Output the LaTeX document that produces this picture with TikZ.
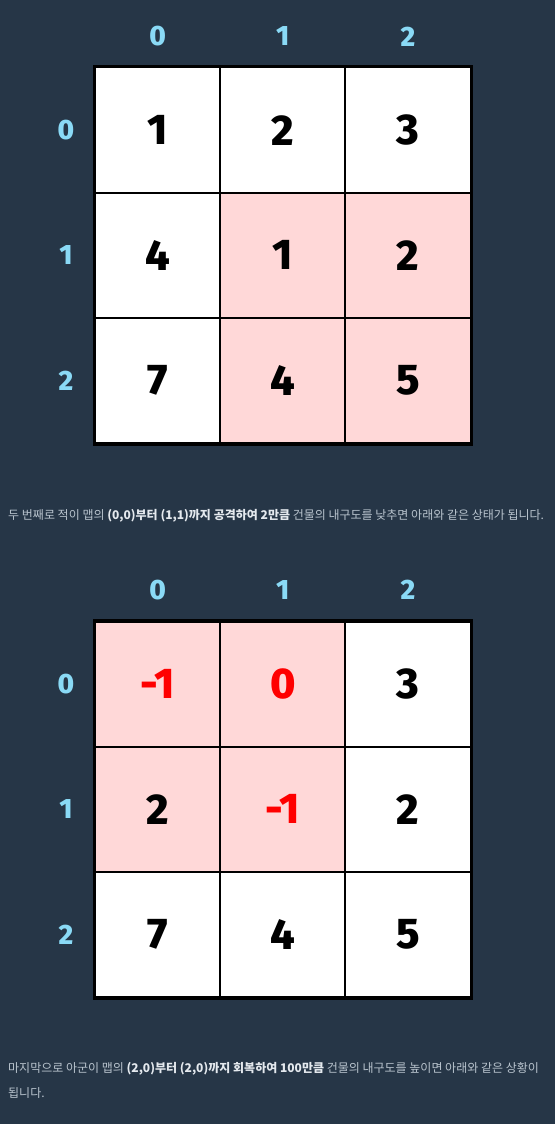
\documentclass[tikz,border=0pt]{standalone}
\usepackage{fontspec}
\setmainfont{Noto Sans CJK KR}
\newfontfamily\numfont{Fira Sans}[BoldFont={Fira Sans ExtraBold}]
\usetikzlibrary{positioning}
\definecolor{bgnavy}{HTML}{263647}
\definecolor{idxblue}{HTML}{8ADAF6}
\definecolor{hitpink}{HTML}{FFD8D8}
\definecolor{notegray}{HTML}{B9C4CE}
\definecolor{notewhite}{HTML}{E4E9EE}

\tikzset{
  cellbox/.style={draw=black, line width=2pt, minimum size=125.2pt, inner sep=0pt,
    font=\numfont\bfseries\fontsize{43}{43}\selectfont},
  idx/.style={text=idxblue, inner sep=0pt, font=\numfont\bfseries\fontsize{28}{28}\selectfont},
  note/.style={text=notegray, inner sep=0pt, anchor=north west, align=left,
    font=\fontsize{12}{25}\selectfont},
}
\newcommand{\hl}[1]{\textcolor{notewhite}{\textbf{#1}}}

\begin{document}
\begin{tikzpicture}[x=1pt,y=-1pt]
  \fill[bgnavy] (0,0) rectangle (555,1124);
  \useasboundingbox (0,0) rectangle (555,1124);

  % first map, after the first attack
  \foreach \r/\c/\v/\f/\t in {0/0/1/white/black, 0/1/2/white/black, 0/2/3/white/black,
      1/0/4/white/black, 1/1/1/hitpink/black, 1/2/2/hitpink/black,
      2/0/7/white/black, 2/1/4/hitpink/black, 2/2/5/hitpink/black}
    \node[cellbox, fill=\f, text=\t] (a\r\c) at ({157.6+125.2*\c},{130.1+125.2*\r}) {\v};
  \draw[line width=3pt] (a00.north west) rectangle (a22.south east);
  \foreach \i in {0,1,2} {
    \node[idx] (ac\i) at ({157.6+125.2*\i},36.5) {\i};
    \node[idx] (ar\i) at (66,{130.1+125.2*\i}) {\i};
  }

  \node[note] (t1) at (8,509) {두 번째로 적이 맵의 \hl{(0,0)부터 (1,1)까지 공격하여 2만큼} 건물의 내구도를 낮추면 아래와 같은 상태가 됩니다.};

  % second map, after the second attack
  \foreach \r/\c/\v/\f/\t in {0/0/-1/hitpink/red, 0/1/0/hitpink/red, 0/2/3/white/black,
      1/0/2/hitpink/black, 1/1/-1/hitpink/red, 1/2/2/white/black,
      2/0/7/white/black, 2/1/4/white/black, 2/2/5/white/black}
    \node[cellbox, fill=\f, text=\t] (b\r\c) at ({157.6+125.2*\c},{684.2+125.2*\r}) {\v};
  \draw[line width=3pt] (b00.north west) rectangle (b22.south east);
  \foreach \i in {0,1,2} {
    \node[idx] (bc\i) at ({157.6+125.2*\i},590) {\i};
    \node[idx] (br\i) at (66,{684.2+125.2*\i}) {\i};
  }

  \node[note] (t2) at (8,1062) {마지막으로 아군이 맵의 \hl{(2,0)부터 (2,0)까지 회복하여 100만큼} 건물의 내구도를 높이면 아래와 같은 상황이\\됩니다.};
\end{tikzpicture}
\end{document}
